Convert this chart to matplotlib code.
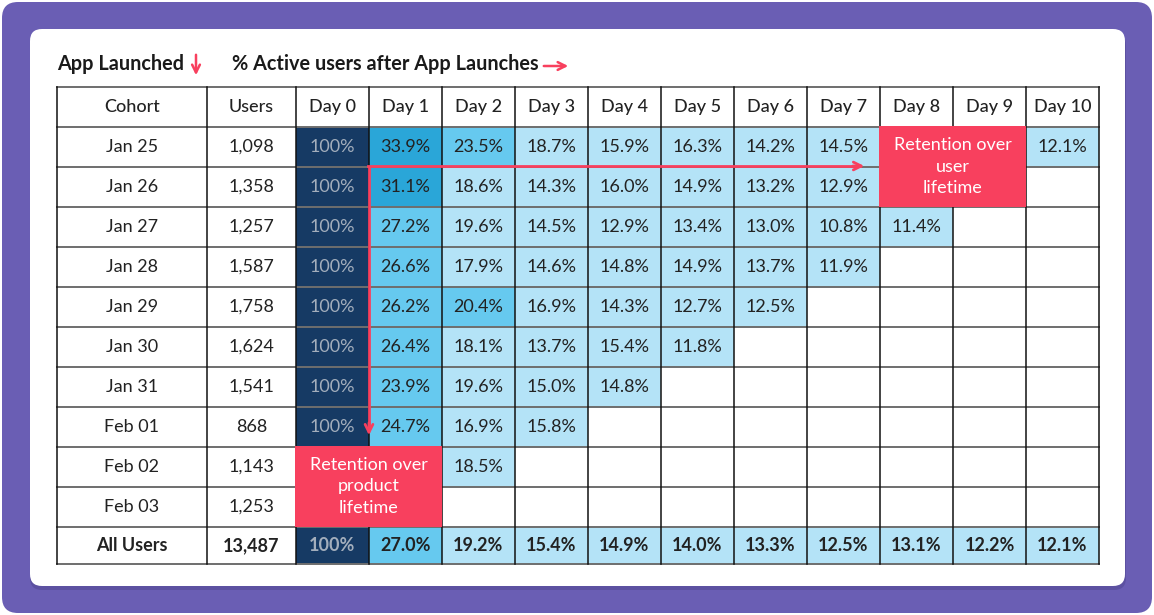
import numpy as np
import matplotlib
matplotlib.use("Agg")
import matplotlib.pyplot as plt
from matplotlib.patches import FancyBboxPatch, Rectangle

plt.rcParams['font.family'] = ['Lato', 'DejaVu Sans']

# ---------------- data ----------------
cohorts = ["Jan 25", "Jan 26", "Jan 27", "Jan 28", "Jan 29", "Jan 30",
           "Jan 31", "Feb 01", "Feb 02", "Feb 03"]
users = [1098, 1358, 1257, 1587, 1758, 1624, 1541, 868, 1143, 1253]
days = [f"Day {i}" for i in range(11)]
nan = np.nan
retention = [
    [100, 33.9, 23.5, 18.7, 15.9, 16.3, 14.2, 14.5, nan, nan, 12.1],
    [100, 31.1, 18.6, 14.3, 16.0, 14.9, 13.2, 12.9, nan, nan],
    [100, 27.2, 19.6, 14.5, 12.9, 13.4, 13.0, 10.8, 11.4],
    [100, 26.6, 17.9, 14.6, 14.8, 14.9, 13.7, 11.9],
    [100, 26.2, 20.4, 16.9, 14.3, 12.7, 12.5],
    [100, 26.4, 18.1, 13.7, 15.4, 11.8],
    [100, 23.9, 19.6, 15.0, 14.8],
    [100, 24.7, 16.9, 15.8],
    [100, nan, 18.5],
    [100, nan],
]
all_users_total = 13487
all_users_ret = [100, 27.0, 19.2, 15.4, 14.9, 14.0, 13.3, 12.5, 13.1, 12.2, 12.1]

# annotation boxes: (text, first cohort row, last cohort row, first day, last day)
notes = [
    ("Retention over\nuser\nlifetime", 0, 1, 8, 9),
    ("Retention over\nproduct\nlifetime", 8, 9, 0, 1),
]

# ---------------- style ----------------
W, H = 1154, 615
fig = plt.figure(figsize=(W / 100, H / 100), dpi=100)
ax = fig.add_axes([0, 0, 1, 1])
ax.set_xlim(0, W)
ax.set_ylim(H, 0)
ax.axis('off')
fig.patch.set_facecolor('white')

PURPLE = '#6A5EB4'
RED = '#F8405E'
NAVY = '#163A64'
TXT = '#222222'

ax.add_patch(FancyBboxPatch((2, 2), W - 4, H - 4,
                            boxstyle="round,pad=0,rounding_size=16",
                            fc=PURPLE, ec='none'))
# card shadow
ax.add_patch(FancyBboxPatch((30, 33), 1096, 557,
                            boxstyle="round,pad=0,rounding_size=12",
                            fc='#4f4590', ec='none', alpha=0.5))
ax.add_patch(FancyBboxPatch((30, 29), 1095, 557,
                            boxstyle="round,pad=0,rounding_size=12",
                            fc='white', ec='none'))

# table geometry
col_x = [57, 207, 296] + [296 + 73 * i for i in range(1, 12)]
top = 87
row_h = 40
n_rows = len(cohorts) + 1  # header + cohorts
row_y = [top + row_h * i for i in range(n_rows + 1)]
last_bottom = row_y[-1] + 37
row_y.append(last_bottom)

FS = 13

hidden = set()
for _, r0, r1, d0, d1 in notes:
    for r in range(r0, r1 + 1):
        for d in range(d0, d1 + 1):
            hidden.add((r, d))


def cell_color(v, d):
    if d == 0:
        return NAVY
    if v >= 30:
        return '#2AA6D8'
    if v >= 20:
        return '#66C9EF'
    return '#B4E3F7'


def draw_row(r, label, total, vals, bold=False):
    y0, y1 = row_y[r], row_y[r + 1]
    yc = (y0 + y1) / 2
    wt = 'bold' if bold else 'normal'
    ax.text((col_x[0] + col_x[1]) / 2, yc, label, ha='center', va='center',
            fontsize=FS, color=TXT, fontweight=wt)
    ax.text((col_x[1] + col_x[2]) / 2, yc, f"{total:,}", ha='center', va='center',
            fontsize=FS, color=TXT, fontweight=wt)
    for d, v in enumerate(vals):
        if v is None or (isinstance(v, float) and np.isnan(v)):
            continue
        if (r - 1, d) in hidden:
            continue
        xa, xb = col_x[2 + d], col_x[3 + d]
        ax.add_patch(Rectangle((xa, y0), xb - xa, y1 - y0,
                               fc=cell_color(v, d), ec='none', zorder=1))
        s = "100%" if d == 0 else f"{v:.1f}%"
        c = '#A3AEBC' if d == 0 else TXT
        ax.text((xa + xb) / 2, yc, s, ha='center', va='center', fontsize=FS,
                color=c, fontweight=wt, zorder=3)


# header
yc = (row_y[0] + row_y[1]) / 2
for i, h in enumerate(["Cohort", "Users"] + days):
    ax.text((col_x[i] + col_x[i + 1]) / 2, yc, h, ha='center', va='center',
            fontsize=FS, color=TXT, fontweight='medium')

for i, (c, u, vals) in enumerate(zip(cohorts, users, retention)):
    draw_row(i + 1, c, u, vals)
draw_row(len(cohorts) + 1, "All Users", all_users_total, all_users_ret, bold=True)

# grid lines
for y in row_y:
    ax.plot([col_x[0], col_x[-1]], [y, y], color='#6E6E6E', lw=1.4, zorder=2)
for x in col_x:
    ax.plot([x, x], [row_y[0], row_y[-1]], color='#111111', lw=1.1, zorder=2)

# titles
ax.text(57, 64, "App Launched", ha='left', va='center', fontsize=14.3,
        color='#1a1a1a', fontweight='bold')
ax.annotate("", xy=(196, 78), xytext=(196, 52),
            arrowprops=dict(arrowstyle='->', color=RED, lw=1.8,
                            mutation_scale=14))
ax.text(232, 64, "% Active users after App Launches", ha='left', va='center',
        fontsize=14.3, color='#1a1a1a', fontweight='bold')
ax.annotate("", xy=(571, 66), xytext=(541, 66),
            arrowprops=dict(arrowstyle='->', color=RED, lw=1.8,
                            mutation_scale=14))

# annotation arrows
ax.plot([369, 369], [166, 430], color=RED, lw=2, zorder=4,
        solid_capstyle='butt')
ax.annotate("", xy=(369, 438), xytext=(369, 420),
            arrowprops=dict(arrowstyle='->', color=RED, lw=2,
                            mutation_scale=14), zorder=4)
ax.plot([368, 860], [166, 166], color=RED, lw=2, zorder=4)
ax.annotate("", xy=(867, 166), xytext=(850, 166),
            arrowprops=dict(arrowstyle='->', color=RED, lw=2,
                            mutation_scale=14), zorder=4)

# annotation boxes
for text, r0, r1, d0, d1 in notes:
    xa, xb = col_x[2 + d0] - 1, col_x[3 + d1]
    ya, yb = row_y[r0 + 1] - 1, row_y[r1 + 2]
    ax.add_patch(Rectangle((xa, ya), xb - xa, yb - ya, fc=RED, ec='none',
                           zorder=5))
    ax.text((xa + xb) / 2, (ya + yb) / 2, text, ha='center', va='center',
            fontsize=FS, color='white', zorder=6, linespacing=1.4)

fig.savefig("out.png", dpi=100, facecolor='white')
